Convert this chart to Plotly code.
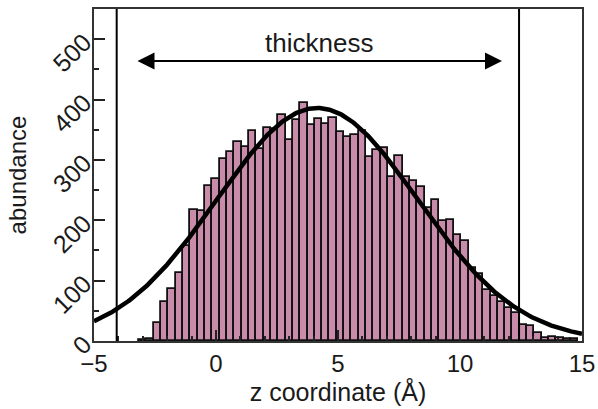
import numpy as np
import plotly.graph_objects as go

# histogram: bin centers (Å) and counts
bin_width = 0.3
bin_centers = [round(0.3 * k, 2) for k in range(-10, 50)]
counts = [1, 4, 29, 65, 86, 113, 158, 217, 215, 257,
          268, 301, 313, 330, 322, 348, 318, 353, 352, 374,
          333, 366, 395, 358, 367, 360, 370, 346, 338, 341,
          348, 304, 317, 319, 272, 306, 271, 265, 255, 221,
          234, 198, 200, 175, 165, 121, 111, 85, 75, 64,
          55, 46, 26, 25, 14, 5, 7, 5, 4, 3]

# Gaussian fit parameters
fit_amplitude = 386
fit_mean = 4.15
fit_sigma = 4.12

# thickness boundaries (mean +/- 2 sigma)
thickness_bounds = [-4.07, 12.42]
arrow_span = [-3.28, 11.72]
arrow_y = 464
label_text = "thickness"

x_ticks = [-5, 0, 5, 10, 15]
y_ticks = [0, 100, 200, 300, 400, 500]

zc = np.linspace(-5, 15, 401)
fit_curve = fit_amplitude * np.exp(-(zc - fit_mean) ** 2 / (2 * fit_sigma ** 2))

font_family = "Liberation Sans, Arial, sans-serif"
ink = "#1a1a1a"

fig = go.Figure()
fig.add_trace(go.Bar(
    x=bin_centers, y=counts, width=bin_width,
    marker=dict(color="#C88BA9", line=dict(color="#111111", width=1.8)),
    showlegend=False,
))
fig.add_trace(go.Scatter(
    x=zc, y=fit_curve, mode="lines",
    line=dict(color="black", width=4.5),
    showlegend=False,
))

for xb in thickness_bounds:
    fig.add_shape(type="line", xref="x", yref="paper", x0=xb, x1=xb, y0=0, y1=1,
                  line=dict(color="black", width=2))

# double-headed arrow
fig.add_annotation(x=arrow_span[1], y=arrow_y, ax=arrow_span[0], ay=arrow_y,
                   xref="x", yref="y", axref="x", ayref="y",
                   text="", showarrow=True, arrowhead=2, arrowside="end+start",
                   arrowsize=1.7, arrowwidth=2, arrowcolor="black",
                   standoff=0, startstandoff=0)
fig.add_annotation(x=(arrow_span[0] + arrow_span[1]) / 2, y=494, xref="x", yref="y",
                   text=label_text, showarrow=False,
                   font=dict(family=font_family, size=26, color=ink))

fig.update_layout(
    width=598, height=409,
    margin=dict(l=94, r=16, t=9, b=68, autoexpand=False),
    plot_bgcolor="white", paper_bgcolor="white",
    bargap=0,
    font=dict(family=font_family, size=24, color=ink),
    xaxis=dict(
        range=[-5, 15], tickvals=x_ticks, ticks="inside", ticklen=11, tickwidth=1.5,
        tickcolor="#222", showline=True, linecolor="#333", linewidth=1.5, mirror=True,
        showgrid=False, zeroline=False, automargin=False,
        minor=dict(dtick=1, ticks="inside", ticklen=5, tickwidth=1.5, tickcolor="#222"),
        title=dict(text="z coordinate (Å)", font=dict(size=25), standoff=2),
        tickfont=dict(size=24),
    ),
    yaxis=dict(
        range=[0, 550], tickvals=y_ticks, ticks="inside", ticklen=11, tickwidth=1.5,
        tickcolor="#222", showline=True, linecolor="#333", linewidth=1.5, mirror=True,
        showgrid=False, zeroline=False, tickangle=-45, ticklabelstandoff=3,
        automargin=False,
        minor=dict(dtick=50, ticks="inside", ticklen=5, tickwidth=1.5, tickcolor="#222"),
        title=dict(text="abundance", font=dict(size=24), standoff=14),
        tickfont=dict(size=25),
    ),
)

fig.write_html("out.html")
